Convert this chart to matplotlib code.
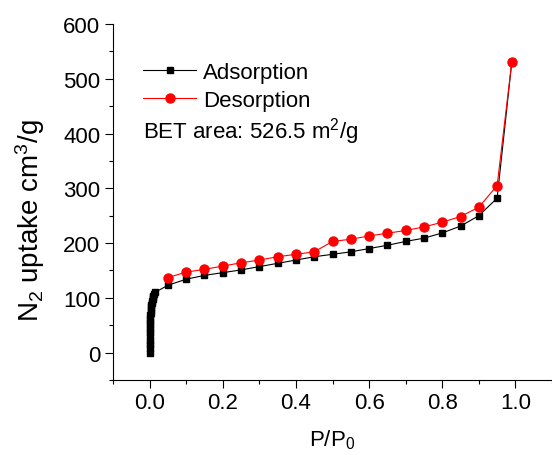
import matplotlib
matplotlib.use("Agg")
import matplotlib.pyplot as plt
from matplotlib.ticker import MultipleLocator

plt.rcParams['font.family'] = ['Liberation Sans', 'DejaVu Sans']
plt.rcParams['mathtext.fontset'] = 'custom'
plt.rcParams['mathtext.rm'] = 'Liberation Sans'
plt.rcParams['mathtext.it'] = 'Liberation Sans'

# adsorption branch (dense low-pressure part + regular steps)
ads_p = [0.0, 0.0001, 0.0002, 0.0003, 0.0005, 0.0007, 0.001, 0.0013, 0.0016,
         0.002, 0.0025, 0.003, 0.0035, 0.004, 0.005, 0.006, 0.007, 0.008,
         0.009, 0.010, 0.012, 0.015,
         0.05, 0.10, 0.15, 0.20, 0.25, 0.30, 0.35, 0.40, 0.45, 0.50, 0.55,
         0.60, 0.65, 0.70, 0.75, 0.80, 0.85, 0.90, 0.95, 0.99]
ads_v = [0, 8, 15, 22, 30, 37, 44, 50, 56, 62, 68, 73, 78, 83, 87, 91, 95, 98,
         101, 104, 107, 110,
         123, 134, 141, 146, 151, 157, 163, 169, 175, 179.5, 184,
         190, 196, 203, 209, 218.5, 231, 250, 282, 530]

# desorption branch
des_p = [0.05, 0.10, 0.15, 0.20, 0.25, 0.30, 0.35, 0.40, 0.45, 0.50, 0.55,
         0.60, 0.65, 0.70, 0.75, 0.80, 0.85, 0.90, 0.95, 0.99]
des_v = [137, 147, 152, 158, 164, 169, 175, 179.5, 184, 203, 207,
         213, 218, 223, 229.5, 238, 248.5, 265.5, 305, 530]

fig = plt.figure(figsize=(5.52, 4.56), dpi=100)
ax = fig.add_axes([113 / 552, 75 / 456, 439 / 552, 356 / 456])

ax.plot(ads_p, ads_v, color='black', lw=0.8, marker='s', markersize=5,
        label='Adsorption')
ax.plot(des_p, des_v, color='red', lw=0.8, marker='o', markersize=6.5,
        label='Desorption')

ax.set_xlim(-0.1, 1.1)
ax.set_ylim(-50, 600)
ax.xaxis.set_major_locator(MultipleLocator(0.2))
ax.xaxis.set_minor_locator(MultipleLocator(0.1))
ax.yaxis.set_major_locator(MultipleLocator(100))
ax.yaxis.set_minor_locator(MultipleLocator(50))
ax.tick_params(which='major', direction='out', length=6, width=0.8,
               labelsize=16, pad=3)
ax.tick_params(which='minor', direction='out', length=3, width=0.8)
ax.spines['top'].set_visible(False)
ax.spines['right'].set_visible(False)
for s in ('left', 'bottom'):
    ax.spines[s].set_linewidth(0.8)

ax.set_xlabel('P/P$_0$', fontsize=16, labelpad=10)
ax.set_ylabel('N$_2$ uptake cm$^3$/g', fontsize=20)
ax.yaxis.set_label_coords(-0.15, 0.45)

ax.legend(loc='upper left', bbox_to_anchor=(0.068, 0.893), frameon=False,
          borderpad=0, borderaxespad=0, handlelength=2.4, handletextpad=0.3,
          labelspacing=0.3, fontsize=16)
ax.text(0.068, 0.70, 'BET area: 526.5 m$^2$/g', transform=ax.transAxes,
        fontsize=16, va='center', ha='left')

fig.savefig('out.png', dpi=100)
